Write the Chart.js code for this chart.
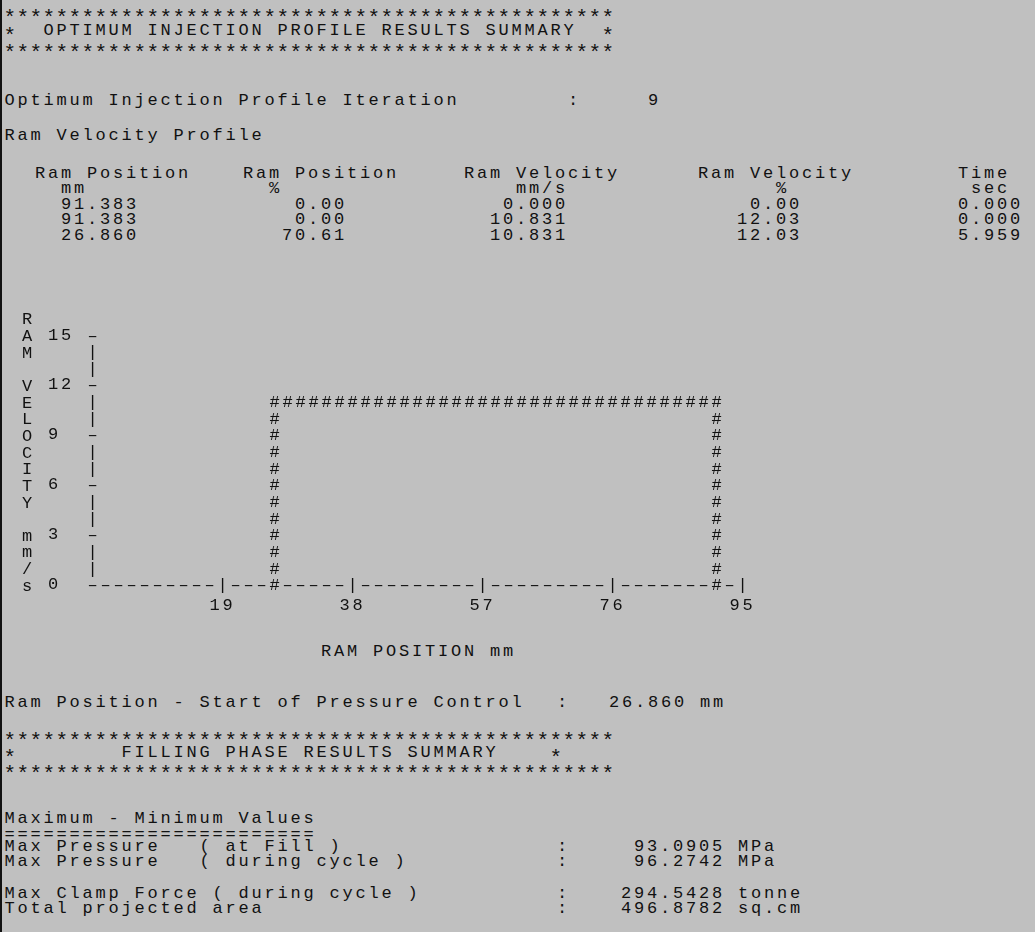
<!DOCTYPE html>
<html><head><meta charset="utf-8">
<script src="https://cdn.jsdelivr.net/npm/chart.js@4.4.0/dist/chart.umd.min.js"></script>
<style>
html,body{margin:0;padding:0;}
body{width:1035px;height:932px;background:#c0c0c0;position:relative;overflow:hidden;}
#bar{position:absolute;left:0;top:0;width:2px;height:932px;background:#111;}
.t{position:absolute;white-space:pre;font-family:"Liberation Mono",monospace;font-size:17px;line-height:16px;letter-spacing:2.8px;color:#111;}
.s{font-size:21px;letter-spacing:0.4px;}
#chartBox{position:absolute;left:0;top:300px;width:800px;height:340px;}
</style></head><body>
<div id="bar"></div>
<div id="chartBox"><canvas id="c" width="800" height="340"></canvas></div>
<script>
// ---- data ----
const ramPositionMm   = [91.383, 91.383, 26.860];
const ramPositionPct  = [0.00, 0.00, 70.61];
const ramVelocityMmS  = [0.000, 10.831, 10.831];
const ramVelocityPct  = [0.00, 12.03, 12.03];
const timeSec         = [0.000, 0.000, 5.959];
const pressureControlStartMm = 26.860;
const xTicks = [19, 38, 57, 76, 95];
const yTicks = [0, 3, 6, 9, 12, 15];
const yTitleLetters = ['R','A','M','','V','E','L','O','C','I','T','Y','','m','m','/','s'];
const iteration = 9;
const summaryLabels = ['Max Pressure   ( at Fill )','Max Pressure   ( during cycle )','Max Clamp Force ( during cycle )','Total projected area'];
const summaryValues = [93.0905, 96.2742, 294.5428, 496.8782];
const summaryUnits  = ['MPa','MPa','tonne','sq.cm'];

// ---- style ----
const TXT = '#111';
const FONT = '"Liberation Mono", monospace';
const COLS_PER_X_TICK = 10;
const CELL = 13;

function T(x, yc, text, cls, dy){
  const d = document.createElement('div');
  d.className = 't' + (cls ? ' ' + cls : '');
  d.textContent = text;
  d.style.left = x + 'px';
  d.style.top = (yc - (dy === undefined ? 7 : dy)) + 'px';
  document.body.appendChild(d);
  return d;
}
function S(x, yc, text){ return T(x, yc, text, 's', 1); }
function cols(parts){
  let s = '';
  parts.forEach(p => {
    const start = p[2] === 'L' ? p[0] : p[0] - p[1].length + 1;
    s = s.padEnd(start, ' ') + p[1];
  });
  return s;
}
const stars = '*'.repeat(47);
const L0 = 4.5;

S(L0 - 1, 12, stars);
S(L0 - 1, 30, '*');
T(L0 + 3 * CELL, 30, 'OPTIMUM INJECTION PROFILE RESULTS SUMMARY');
S(L0 - 1 + 46 * CELL, 30, '*');
S(L0 - 1, 47, stars);
T(L0, 100, 'Optimum Injection Profile Iteration');
T(568, 100, ':');
T(648, 100, String(iteration));
T(L0, 135, 'Ram Velocity Profile');

const TX = 35;
T(TX, 173, cols([[0,'Ram Position','L'],[16,'Ram Position','L'],[33,'Ram Velocity','L'],[51,'Ram Velocity','L'],[71,'Time','L']]));
T(TX, 188, cols([[2,'mm','L'],[18,'%','L'],[37,'mm/s','L'],[57,'%','L'],[72,'sec','L']]));
const rowY = [204, 219, 235];
ramPositionMm.forEach((v, i) => {
  T(TX, rowY[i], cols([[7, v.toFixed(3)],[23, ramPositionPct[i].toFixed(2)],[40, ramVelocityMmS[i].toFixed(3)],[58, ramVelocityPct[i].toFixed(2)],[75, timeSec[i].toFixed(3)]]));
});

T(321, 651, 'RAM POSITION mm');
T(L0, 702, 'Ram Position - Start of Pressure Control');
T(557, 702, ':');
T(609, 702, pressureControlStartMm.toFixed(3) + ' mm');

S(L0 - 1, 735, stars);
S(L0 - 1, 752, '*');
T(L0 + 9 * CELL, 752, 'FILLING PHASE RESULTS SUMMARY');
S(L0 - 1 + 42 * CELL, 752, '*');
S(L0 - 1, 768, stars);
T(L0, 818, 'Maximum - Minimum Values');
T(L0, 833, '='.repeat(24), '', 6);
const sumY = [846, 861, 893, 908];
summaryLabels.forEach((lab, i) => {
  T(L0, sumY[i], lab);
  T(557, sumY[i], ':');
  const num = summaryValues[i].toFixed(4);
  T(634 - CELL * (num.length - 7), sumY[i], num + ' ' + summaryUnits[i]);
});

// ---- chart ----
const profileX = ramPositionMm.concat([pressureControlStartMm]);
const profileY = ramVelocityMmS.concat([0]);

const spacingPlugin = {
  id: 'spacing',
  beforeDraw(chart){ chart.ctx.letterSpacing = '2.8px'; }
};
const asciiPlugin = {
  id: 'ascii',
  afterDatasetsDraw(chart){
    const xs = chart.scales.x, ys = chart.scales.y, ctx = chart.ctx;
    const ox = xs.getPixelForValue(0), oy = ys.getPixelForValue(0);
    const cw = (xs.getPixelForValue(xTicks[0]) - ox) / COLS_PER_X_TICK;
    const rh = oy - ys.getPixelForValue(1);
    const col = px => Math.round((px - ox) / cw);
    const row = py => Math.round((oy - py) / rh);
    const cells = new Map();
    const nRows = row(ys.getPixelForValue(ys.max));
    const yTickRows = new Set(ys.ticks.map(t => row(ys.getPixelForValue(t.value))));
    for (let r = 1; r <= nRows; r++) cells.set(0 + ',' + r, yTickRows.has(r) ? '\u2013' : '|');
    const nCols = col(xs.getPixelForValue(xs.max));
    const xTickCols = new Set(xs.ticks.map(t => col(xs.getPixelForValue(t.value))));
    for (let c = 0; c <= nCols; c++) cells.set(c + ',0', xTickCols.has(c) ? '|' : '\u2013');
    const pts = chart.getDatasetMeta(0).data;
    for (let i = 0; i < pts.length - 1; i++) {
      const c1 = col(pts[i].x), r1 = row(pts[i].y), c2 = col(pts[i+1].x), r2 = row(pts[i+1].y);
      const n = Math.max(Math.abs(c2 - c1), Math.abs(r2 - r1), 1);
      for (let k = 0; k <= n; k++) {
        const c = Math.round(c1 + (c2 - c1) * k / n), r = Math.round(r1 + (r2 - r1) * k / n);
        cells.set(c + ',' + r, '#');
      }
    }
    ctx.save();
    ctx.letterSpacing = '0px';
    ctx.font = '17px ' + FONT;
    ctx.fillStyle = TXT;
    ctx.textAlign = 'center';
    ctx.textBaseline = 'middle';
    cells.forEach((ch, key) => {
      const [c, r] = key.split(',').map(Number);
      ctx.fillText(ch, ox + c * cw, oy - r * rh + 1);
    });
    ctx.restore();
  }
};

const chart = new Chart(document.getElementById('c'), {
  type: 'scatter',
  data: { datasets: [{ data: profileX.map((x, i) => ({ x: x, y: profileY[i] })), showLine: false, pointRadius: 0, pointHoverRadius: 0 }] },
  options: {
    responsive: false, devicePixelRatio: 1, animation: false, events: [],
    layout: { padding: { left: 48, right: 57.5, top: 35, bottom: 14.8 } },
    plugins: { legend: { display: false }, tooltip: { enabled: false } },
    scales: {
      x: {
        type: 'linear', min: 0, max: 95,
        afterBuildTicks: s => { s.ticks = xTicks.map(v => ({ value: v })); },
        grid: { display: false, drawTicks: false }, border: { display: false },
        ticks: { color: TXT, font: { family: FONT, size: 17 }, padding: 10, maxRotation: 0, autoSkip: false }
      },
      y: {
        type: 'linear', min: 0, max: 15,
        afterBuildTicks: s => { s.ticks = yTicks.map(v => ({ value: v })); },
        afterFit: s => { s.width = 44.5; },
        grid: { display: false, drawTicks: false }, border: { display: false },
        ticks: { color: TXT, font: { family: FONT, size: 17 }, padding: 0, crossAlign: 'far', autoSkip: false }
      }
    }
  },
  plugins: [spacingPlugin, asciiPlugin]
});

// y-axis title: one letter per row, rows taken from the y scale
const ysc = chart.scales.y;
const top0 = 300;
yTitleLetters.forEach((ch, j) => {
  if (ch) T(22, top0 + ysc.getPixelForValue(yTicks[yTicks.length - 1] + 1 - j) + 1, ch);
});
</script>
</body></html>
